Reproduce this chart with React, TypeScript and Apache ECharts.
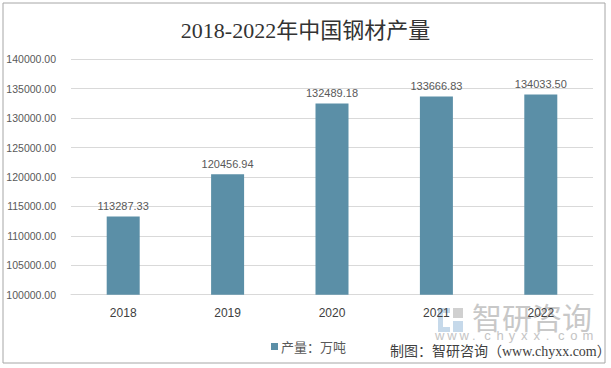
import React, { useEffect, useRef } from "react";
import * as echarts from "echarts";

const titleText = "2018-2022年中国钢材产量";
const categories = ["2018", "2019", "2020", "2021", "2022"];
const seriesName = "产量：万吨";
const values = [113287.33, 120456.94, 132489.18, 133666.83, 134033.5];
const yMin = 100000;
const yMax = 140000;
const yInterval = 5000;
const sourceText = "制图：智研咨询（www.chyxx.com）";
const watermarkName = "智研咨询";
const watermarkUrl = "www.chyxx.com";

const CJK = "'Noto Sans CJK SC', sans-serif";
const SERIF_CJK = "'Liberation Serif', 'Noto Sans CJK SC', serif";
const SANS = "'Liberation Sans', 'Noto Sans', sans-serif";

export default function App() {
  const ref = useRef<HTMLDivElement>(null);
  useEffect(() => {
    if (!ref.current) return;
    const chart = echarts.init(ref.current, null, { renderer: "svg" });
    const urlChars = watermarkUrl.split("").map((ch, i) => ({
      type: "text",
      x: 435 + i * 12.3,
      y: 329,
      style: {
        text: ch,
        fontFamily: SANS,
        fontSize: 13,
        fill: "#c4c4c4",
      },
      silent: true,
    }));
    chart.setOption({
      animation: false,
      backgroundColor: "#ffffff",
      title: {
        text: titleText,
        left: "center",
        top: 14,
        textStyle: {
          fontFamily: SERIF_CJK,
          fontSize: 22,
          fontWeight: "normal",
          color: "#333333",
        },
      },
      grid: { left: 71, right: 18, top: 59.3, bottom: 73.3, containLabel: false },
      legend: {
        left: 266,
        top: 335,
        icon: "rect",
        itemWidth: 7,
        itemHeight: 7,
        itemGap: 10,
        textStyle: { fontFamily: CJK, fontSize: 13, color: "#595959", padding: [0, 0, 0, -2] },
        data: [seriesName],
      },
      xAxis: {
        type: "category",
        data: categories,
        axisLine: { show: true, lineStyle: { color: "#d9d9d9", width: 1 } },
        axisTick: { show: false },
        axisLabel: { fontFamily: SANS, fontSize: 12, color: "#404040", margin: 12 },
      },
      yAxis: {
        type: "value",
        min: yMin,
        max: yMax,
        interval: yInterval,
        axisLine: { show: false },
        axisTick: { show: false },
        splitLine: { lineStyle: { color: "#d9d9d9", width: 1 } },
        axisLabel: {
          fontFamily: SANS,
          fontSize: 10.5,
          color: "#595959",
          margin: 15,
          formatter: (v: number) => v.toFixed(2),
        },
      },
      series: [
        {
          name: seriesName,
          type: "bar",
          data: values,
          barWidth: 33,
          itemStyle: { color: "#5b8fa7" },
          label: {
            show: true,
            position: "top",
            distance: 5,
            fontFamily: SANS,
            fontSize: 11,
            color: "#595959",
            formatter: (p: any) => Number(p.value).toFixed(2),
          },
        },
      ],
      graphic: [
        {
          type: "rect",
          shape: { x: 3, y: 3, width: 602, height: 360 },
          style: { fill: "none", stroke: "#a6a6a6", lineWidth: 1 },
          silent: true,
        },
        {
          type: "group",
          left: 438,
          top: 308,
          children: [
            { type: "rect", shape: { x: 0, y: 0, width: 12, height: 5 }, style: { fill: "#c6d9ea" } },
            { type: "rect", shape: { x: 0, y: 0, width: 5, height: 24 }, style: { fill: "#c6d9ea" } },
            { type: "rect", shape: { x: 0, y: 19, width: 12, height: 5 }, style: { fill: "#c6d9ea" } },
            { type: "rect", shape: { x: 15, y: 0, width: 10, height: 10 }, style: { fill: "#d0d0d0" } },
            { type: "rect", shape: { x: 15, y: 13, width: 10, height: 11 }, style: { fill: "#c6d9ea" } },
          ],
        },
        {
          type: "text",
          left: 472,
          top: 301,
          style: {
            text: watermarkName,
            fontFamily: CJK,
            fontSize: 30,
            fill: "#c8c8c8",
          },
          silent: true,
        },
        ...urlChars,
        {
          type: "text",
          left: 390,
          top: 344,
          style: {
            text: sourceText,
            fontFamily: SERIF_CJK,
            fontSize: 14,
            fill: "#404040",
          },
          silent: true,
        },
      ],
    });
    return () => chart.dispose();
  }, []);
  return (
    <div
      ref={ref}
      style={{ position: "absolute", left: 0, top: 0, width: 611, height: 368 }}
    />
  );
}
